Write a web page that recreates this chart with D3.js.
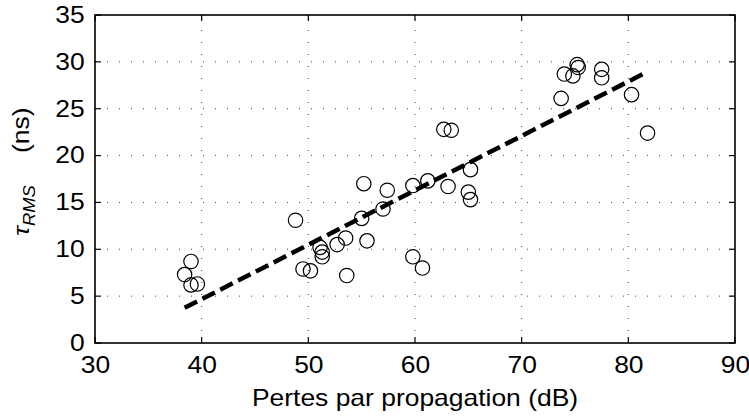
<!DOCTYPE html>
<html>
<head>
<meta charset="utf-8">
<script src="https://cdn.jsdelivr.net/npm/d3@7"></script>
<style>
  html, body { margin: 0; padding: 0; background: #fff; }
  svg { display: block; }
  text { font-family: "Liberation Sans", Arial, Helvetica, sans-serif; }
</style>
</head>
<body>
<svg id="chart" width="749" height="417"></svg>
<script>
// Data
const lossDb = [38.4, 39.0, 39.0, 39.6,
  48.8, 49.5, 50.2, 51.1, 51.3, 51.3, 52.7, 53.5, 53.6, 55.0, 55.2, 55.5,
  57.0, 57.4, 59.8, 59.8, 60.7, 61.2, 62.7, 63.1, 63.4, 65.0, 65.2, 65.2,
  73.7, 74.0, 74.8, 75.2, 75.3, 77.5, 77.5, 80.3, 81.8];
const tauRms = [7.3, 8.7, 6.2, 6.3,
  13.1, 7.9, 7.7, 10.2, 9.7, 9.2, 10.5, 11.2, 7.2, 13.3, 17.0, 10.9,
  14.3, 16.3, 16.8, 9.2, 8.0, 17.3, 22.8, 16.7, 22.7, 16.1, 15.3, 18.5,
  26.1, 28.7, 28.5, 29.7, 29.4, 29.2, 28.3, 26.5, 22.4];
const fitX = [38.4, 81.8];
const fitY = [3.75, 28.95];
const xTicks = [30, 40, 50, 60, 70, 80, 90];
const yTicks = [0, 5, 10, 15, 20, 25, 30, 35];
const xLabel = "Pertes par propagation (dB)";

const svg = d3.select("#chart");
const L = 95, R = 735, T = 15, B = 343;
const SX = 1.15, FS = 23;
const x = d3.scaleLinear().domain([30, 90]).range([L, R]);
const y = d3.scaleLinear().domain([0, 35]).range([B, T]);

// grid
const grid = svg.append("g").attr("stroke", "#444").attr("stroke-width", 1)
  .attr("stroke-dasharray", "1,11");
xTicks.slice(1, -1).forEach(v => grid.append("line")
  .attr("x1", x(v)).attr("x2", x(v)).attr("y1", B).attr("y2", T));
yTicks.slice(1, -1).forEach(v => grid.append("line")
  .attr("x1", L).attr("x2", R).attr("y1", y(v)).attr("y2", y(v)));

// tick marks (inward, all four sides)
const tk = svg.append("g").attr("stroke", "#000").attr("stroke-width", 1.2);
xTicks.forEach(v => {
  tk.append("line").attr("x1", x(v)).attr("x2", x(v)).attr("y1", B).attr("y2", B - 6);
  tk.append("line").attr("x1", x(v)).attr("x2", x(v)).attr("y1", T).attr("y2", T + 6);
});
yTicks.forEach(v => {
  tk.append("line").attr("x1", L).attr("x2", L + 6).attr("y1", y(v)).attr("y2", y(v));
  tk.append("line").attr("x1", R).attr("x2", R - 6).attr("y1", y(v)).attr("y2", y(v));
});

// axes labels via d3 axes
const xAxis = svg.append("g").attr("transform", `translate(0,${B})`)
  .call(d3.axisBottom(x).tickValues(xTicks).tickSize(0).tickPadding(14).tickFormat(d3.format("d")));
const yAxis = svg.append("g").attr("transform", `translate(${L},0)`)
  .call(d3.axisLeft(y).tickValues(yTicks).tickSize(0).tickPadding(9).tickFormat(d3.format("d")));
[xAxis, yAxis].forEach(g => {
  g.select(".domain").remove();
  g.selectAll("text").attr("font-size", FS).attr("fill", "#000")
    .attr("font-family", "Liberation Sans, Arial, sans-serif")
    .attr("transform", `scale(${SX},1)`);
});

// fit line
svg.append("line")
  .attr("x1", x(fitX[0])).attr("y1", y(fitY[0]))
  .attr("x2", x(fitX[1])).attr("y2", y(fitY[1]))
  .attr("stroke", "#000").attr("stroke-width", 4.5)
  .attr("stroke-dasharray", "14,6");

// points
svg.append("g").selectAll("circle")
  .data(lossDb.map((d, i) => [d, tauRms[i]]))
  .join("circle")
  .attr("cx", d => x(d[0])).attr("cy", d => y(d[1])).attr("r", 7.2)
  .attr("fill", "none").attr("stroke", "#000").attr("stroke-width", 1.2);

// box
svg.append("rect").attr("x", L).attr("y", T).attr("width", R - L).attr("height", B - T)
  .attr("fill", "none").attr("stroke", "#000").attr("stroke-width", 1.6);

// x label
svg.append("text").attr("transform", `translate(${(L + R) / 2},406) scale(${SX},1)`)
  .attr("text-anchor", "middle").attr("font-size", FS).text(xLabel);

// y label
const yl = svg.append("text").attr("transform", `translate(29,236) rotate(-90) scale(${SX},1)`)
  .attr("font-size", FS);
yl.append("tspan").attr("font-style", "italic").text("τ");
yl.append("tspan").attr("font-style", "italic").attr("font-size", 16).attr("dy", 6).text("RMS");
svg.append("text").attr("transform", `translate(29,153) rotate(-90) scale(${SX},1)`)
  .attr("font-size", FS).text("(ns)");
</script>
</body>
</html>
